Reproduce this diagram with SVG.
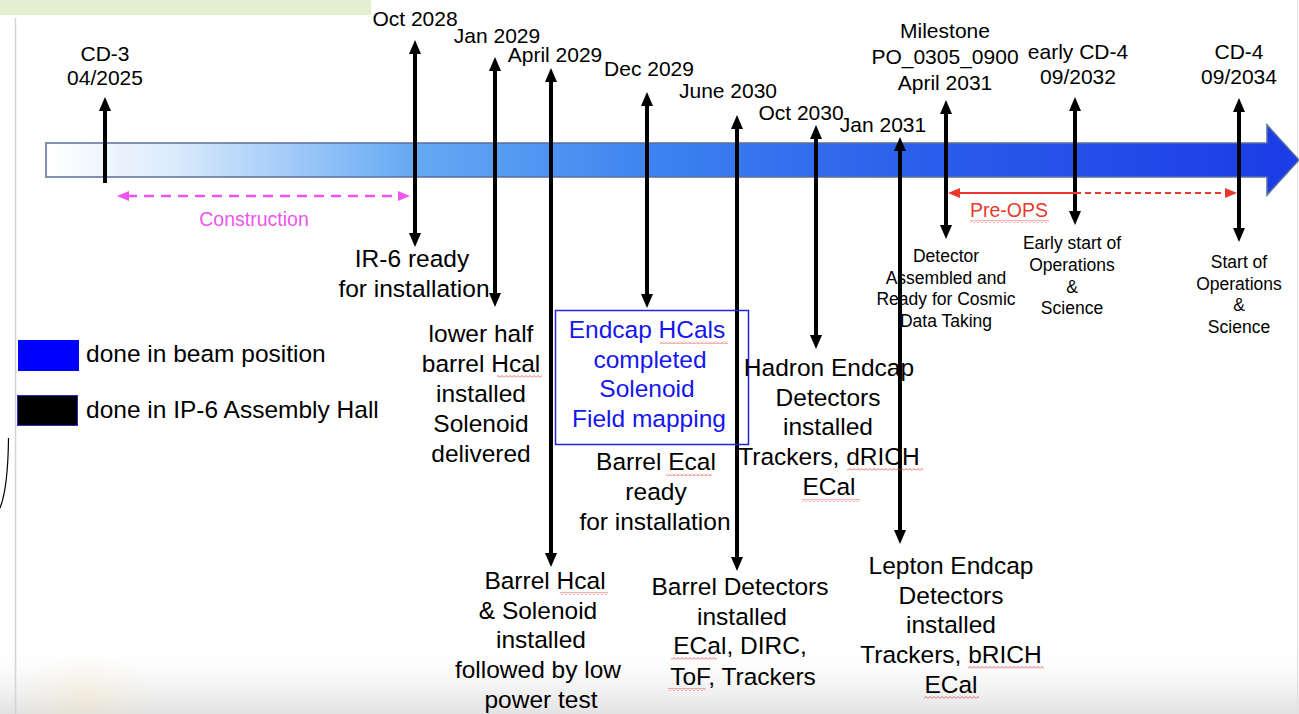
<svg xmlns="http://www.w3.org/2000/svg" width="1299" height="714" viewBox="0 0 1299 714">
<defs>
<linearGradient id="beam" gradientUnits="userSpaceOnUse" x1="46" y1="0" x2="1299" y2="0">
<stop offset="0" stop-color="#ffffff"/>
<stop offset="0.1" stop-color="#dcebfc"/>
<stop offset="0.29" stop-color="#66aaf3"/>
<stop offset="0.5" stop-color="#3b80f0"/>
<stop offset="0.7" stop-color="#2b5deb"/>
<stop offset="1" stop-color="#1b3be6"/>
</linearGradient>
<linearGradient id="floor" x1="0" y1="0" x2="0" y2="1">
<stop offset="0" stop-color="#ffffff" stop-opacity="0"/>
<stop offset="1" stop-color="#e2e2e2"/>
</linearGradient>
<radialGradient id="gold" cx="0.5" cy="0.5" r="0.5">
<stop offset="0" stop-color="#f3e2b0" stop-opacity="0.28"/>
<stop offset="1" stop-color="#f3e2b0" stop-opacity="0"/>
</radialGradient>
<marker id="ah" viewBox="0 0 14 12" markerWidth="14" markerHeight="12" refX="3" refY="6" orient="auto-start-reverse" markerUnits="userSpaceOnUse">
<path d="M0,0 L14,6 L0,12 Z" fill="#000"/>
</marker>
<marker id="ahPink" viewBox="0 0 12 10" markerWidth="12" markerHeight="10" refX="2" refY="5" orient="auto-start-reverse" markerUnits="userSpaceOnUse">
<path d="M0,0 L12,5 L0,10 Z" fill="#ee55ee"/>
</marker>
<marker id="ahRed" viewBox="0 0 12 10" markerWidth="12" markerHeight="10" refX="2" refY="5" orient="auto-start-reverse" markerUnits="userSpaceOnUse">
<path d="M0,0 L12,5 L0,10 Z" fill="#e8392c"/>
</marker>
<pattern id="wavy" width="4" height="3" patternUnits="userSpaceOnUse">
<path d="M0,2.5 L2,0.5 L4,2.5" fill="none" stroke="#e0403a" stroke-width="0.8"/>
</pattern>
<style>
.t{font-family:"Liberation Sans",Arial,sans-serif;fill:#000;text-anchor:middle}
.d{font-size:21px}
.m{font-size:24.5px}
.s{font-size:17.5px}
.b{fill:#1515ee}
.leg{font-family:"Liberation Sans",Arial,sans-serif;font-size:24.5px;fill:#000}
.v{stroke:#000;stroke-width:4;fill:none;marker-start:url(#ah);marker-end:url(#ah)}
.v1{stroke:#000;stroke-width:4;fill:none;marker-start:url(#ah)}
</style>
</defs>

<g id="background">
<rect x="0" y="0" width="1299" height="714" fill="#ffffff"/>
<rect x="0" y="640" width="1299" height="74" fill="url(#floor)"/>
<ellipse cx="85" cy="700" rx="70" ry="45" fill="url(#gold)"/>
<rect x="0" y="0" width="371" height="15" fill="#e3efd0"/>
<line x1="15.5" y1="18" x2="15.5" y2="714" stroke="#d4d4d4" stroke-width="1.5"/>
<line x1="1297.5" y1="0" x2="1297.5" y2="714" stroke="#e0e0e0" stroke-width="1"/>
<path d="M8.5,438 Q8,488 0,508" fill="none" stroke="#000" stroke-width="1.2"/>
</g>

<g id="beam-arrow">
<path d="M46,143 L1267,143 L1267,125 L1299,160 L1267,195 L1267,177 L46,177 Z" fill="url(#beam)" stroke="#5a6f9e" stroke-width="1.5"/>
</g>

<g id="legend">
<rect x="18" y="340" width="61" height="31" fill="#0000ff"/>
<text class="leg" x="86" y="362">done in beam position</text>
<rect x="17.5" y="395.5" width="60" height="30" fill="#000" stroke="#2a2acc" stroke-width="1"/>
<text class="leg" x="86" y="418">done in IP-6 Assembly Hall</text>
</g>

<g id="connectors">
<line class="v1" x1="105" y1="108" x2="105" y2="183"/>
<line class="v" x1="415" y1="51" x2="415" y2="236"/>
<line class="v" x1="495" y1="68" x2="495" y2="296"/>
<line class="v" x1="551" y1="79" x2="551" y2="556"/>
<line class="v" x1="647" y1="103" x2="647" y2="297"/>
<line class="v" x1="737" y1="126" x2="737" y2="560"/>
<line class="v" x1="816" y1="136" x2="816" y2="338"/>
<line class="v" x1="900" y1="148" x2="900" y2="533"/>
<line class="v" x1="946" y1="111" x2="946" y2="228"/>
<line class="v" x1="1075" y1="108" x2="1075" y2="214"/>
<line class="v" x1="1239" y1="109" x2="1239" y2="231"/>
<line x1="127" y1="196" x2="400" y2="196" stroke="#ee55ee" stroke-width="2.5" stroke-dasharray="10,7" marker-start="url(#ahPink)" marker-end="url(#ahPink)"/>
<line x1="958" y1="193" x2="1075" y2="193" stroke="#e8392c" stroke-width="1.8" marker-start="url(#ahRed)"/>
<line x1="1075" y1="193" x2="1227" y2="193" stroke="#e8392c" stroke-width="1.8" stroke-dasharray="6,4" marker-end="url(#ahRed)"/>
</g>

<g id="cd3">
<text class="t d" x="105" y="61">CD-3</text>
<text class="t d" x="105" y="85">04/2025</text>
</g>

<g id="construction">
<text class="t" x="254" y="226" style="font-size:19.5px;fill:#ee55ee">Construction</text>
</g>

<g id="oct2028">
<text class="t d" x="415" y="26">Oct 2028</text>
<text class="t m" x="412" y="267">IR-6 ready</text>
<text class="t m" x="414" y="297">for installation</text>
</g>

<g id="jan2029">
<text class="t d" x="497" y="43">Jan 2029</text>
<text class="t m" x="481" y="342">lower half</text>
<text class="t m" x="481" y="372">barrel Hcal</text>
<text class="t m" x="481" y="402">installed</text>
<text class="t m" x="481" y="432">Solenoid</text>
<text class="t m" x="481" y="462">delivered</text>
</g>

<g id="apr2029">
<text class="t d" x="555" y="62">April 2029</text>
<text class="t m" x="545" y="589">Barrel Hcal</text>
<text class="t m" x="538" y="619">&amp; Solenoid</text>
<text class="t m" x="541" y="648">installed</text>
<text class="t m" x="538" y="678">followed by low</text>
<text class="t m" x="541" y="708">power test</text>
</g>

<g id="dec2029">
<text class="t d" x="649" y="76">Dec 2029</text>
<rect x="555.5" y="310.5" width="193" height="134" fill="none" stroke="#2424dd" stroke-width="1.5"/>
<text class="t m b" x="647" y="338">Endcap HCals</text>
<text class="t m b" x="650" y="368">completed</text>
<text class="t m b" x="647" y="397">Solenoid</text>
<text class="t m b" x="649" y="427">Field mapping</text>
<text class="t m" x="656" y="470">Barrel Ecal</text>
<text class="t m" x="656" y="500">ready</text>
<text class="t m" x="655" y="530">for installation</text>
</g>

<g id="jun2030">
<text class="t d" x="728" y="98">June 2030</text>
<text class="t m" x="740" y="595">Barrel Detectors</text>
<text class="t m" x="742" y="625">installed</text>
<text class="t m" x="740" y="654">ECal, DIRC,</text>
<text class="t m" x="743" y="685">ToF, Trackers</text>
</g>

<g id="oct2030">
<text class="t d" x="801" y="120">Oct 2030</text>
<text class="t m" x="829" y="376">Hadron Endcap</text>
<text class="t m" x="828" y="406">Detectors</text>
<text class="t m" x="828" y="435">installed</text>
<text class="t m" x="829" y="465">Trackers, dRICH</text>
<text class="t m" x="829" y="495">ECal</text>
</g>

<g id="jan2031">
<text class="t d" x="883" y="132">Jan 2031</text>
<text class="t m" x="951" y="574">Lepton Endcap</text>
<text class="t m" x="951" y="604">Detectors</text>
<text class="t m" x="951" y="633">installed</text>
<text class="t m" x="951" y="663">Trackers, bRICH</text>
<text class="t m" x="951" y="693">ECal</text>
</g>

<g id="milestone">
<text class="t d" x="945" y="38">Milestone</text>
<text class="t d" x="945" y="64">PO_0305_0900</text>
<text class="t d" x="945" y="90">April 2031</text>
<text class="t s" x="946" y="262">Detector</text>
<text class="t s" x="946" y="284">Assembled and</text>
<text class="t s" x="946" y="305">Ready for Cosmic</text>
<text class="t s" x="946" y="327">Data Taking</text>
</g>

<g id="preops">
<text class="t" x="1009" y="217" style="font-size:19.5px;fill:#e8392c">Pre-OPS</text>
</g>

<g id="earlycd4">
<text class="t d" x="1078" y="59">early CD-4</text>
<text class="t d" x="1078" y="84">09/2032</text>
<text class="t s" x="1072" y="249">Early start of</text>
<text class="t s" x="1072" y="271">Operations</text>
<text class="t s" x="1072" y="293">&amp;</text>
<text class="t s" x="1072" y="314">Science</text>
</g>

<g id="cd4">
<text class="t d" x="1239" y="59">CD-4</text>
<text class="t d" x="1239" y="84">09/2034</text>
<text class="t s" x="1239" y="268">Start of</text>
<text class="t s" x="1239" y="290">Operations</text>
<text class="t s" x="1239" y="311">&amp;</text>
<text class="t s" x="1239" y="333">Science</text>
</g>

<g id="spell-marks">
<rect x="497" y="375" width="45" height="3" fill="url(#wavy)"/>
<rect x="560" y="592" width="48" height="3" fill="url(#wavy)"/>
<rect x="660" y="341" width="68" height="3" fill="url(#wavy)"/>
<rect x="666" y="473" width="46" height="3" fill="url(#wavy)"/>
<rect x="847" y="468" width="76" height="3" fill="url(#wavy)"/>
<rect x="802" y="499" width="58" height="3" fill="url(#wavy)"/>
<rect x="671" y="657" width="46" height="3" fill="url(#wavy)"/>
<rect x="668" y="688" width="38" height="3" fill="url(#wavy)"/>
<rect x="968" y="666" width="76" height="3" fill="url(#wavy)"/>
<rect x="924" y="696" width="55" height="3" fill="url(#wavy)"/>
<rect x="970" y="220" width="79" height="3" fill="url(#wavy)"/>
</g>
</svg>
